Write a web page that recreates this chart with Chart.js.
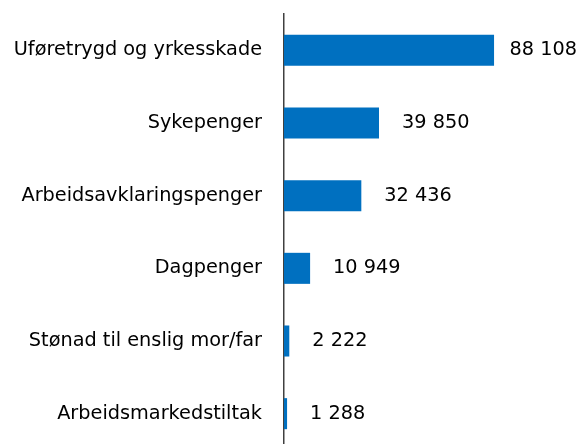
<!DOCTYPE html>
<html>
<head>
<meta charset="utf-8">
<script src="https://cdn.jsdelivr.net/npm/chart.js@4"></script>
<style>
html,body{margin:0;padding:0;background:#fff;overflow:hidden;width:582px;height:444px;}
canvas{display:block;}
</style>
</head>
<body>
<canvas id="c" width="582" height="450"></canvas>
<script>
const categories = ["Uføretrygd og yrkesskade","Sykepenger","Arbeidsavklaringspenger","Dagpenger","Stønad til enslig mor/far","Arbeidsmarkedstiltak"];
const values = [88108, 39850, 32436, 10949, 2222, 1288];
const valueLabels = ["88 108","39 850","32 436","10 949","2 222","1 288"];

const FONT = "'DejaVu Sans'";
const FSIZE = 19.3;

const labelPlugin = {
  id: 'valLabels',
  afterDatasetsDraw(chart) {
    const ctx = chart.ctx;
    const meta = chart.getDatasetMeta(0);
    ctx.save();
    ctx.font = FSIZE + "px " + FONT;
    ctx.fillStyle = "#000";
    ctx.textBaseline = "middle";
    ctx.textAlign = "left";
    meta.data.forEach((bar, i) => {
      const t = valueLabels[i];
      const w = ctx.measureText(t).width;
      let x = bar.x + 23;
      if (x + w > 577) x = 577 - w;
      ctx.fillText(t, x, bar.y);
    });
    ctx.restore();
  }
};

new Chart(document.getElementById('c'), {
  type: 'bar',
  data: {
    labels: categories,
    datasets: [{
      data: values,
      backgroundColor: '#0070C0',
      borderWidth: 0,
      barPercentage: 0.427,
      categoryPercentage: 1
    }]
  },
  options: {
    indexAxis: 'y',
    responsive: false,
    animation: false,
    devicePixelRatio: 1,
    layout: { padding: { top: 14, right: 0, bottom: 0, left: 0 } },
    plugins: { legend: { display: false }, tooltip: { enabled: false } },
    scales: {
      x: { display: false, min: 0, max: 125000 },
      y: {
        afterFit(scale) { scale.width = 284; scale.paddingTop = 0; scale.paddingBottom = 0; },
        grid: { display: false, drawTicks: false },
        border: { display: true, color: '#404040', width: 1.5 },
        ticks: { color: '#000', padding: 22, font: { family: FONT, size: FSIZE } }
      }
    }
  },
  plugins: [labelPlugin]
});
</script>
</body>
</html>
